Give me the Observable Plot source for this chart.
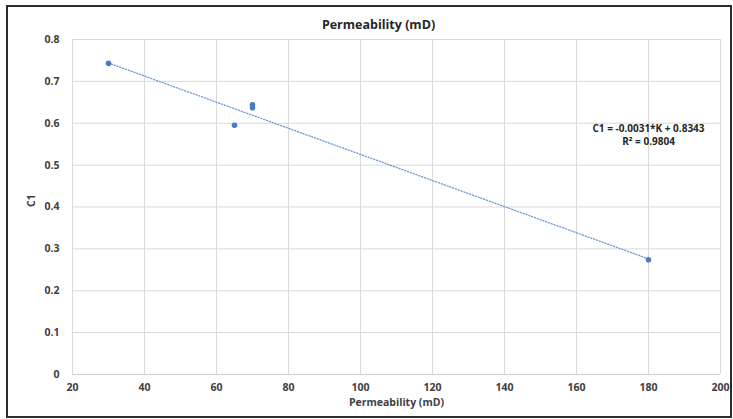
<!DOCTYPE html>
<html>
<head>
<meta charset="utf-8">
<script src="https://cdn.jsdelivr.net/npm/d3@7"></script>
<script src="https://cdn.jsdelivr.net/npm/@observablehq/plot@0.6"></script>
<style>
  html, body { margin: 0; padding: 0; background: #fff; }
  #wrap { position: relative; width: 733px; height: 419px; overflow: hidden; }
  #frame { position: absolute; left: 6px; top: 5px; width: 726px; height: 413px;
           box-sizing: border-box; border: 2px solid #2b2b2b; pointer-events: none; }
  svg { font-family: "Open Sans", sans-serif; }
</style>
</head>
<body>
<div id="wrap"><div id="frame"></div></div>
<script>
// Data
const permeability = [30, 65, 70, 70, 180];          // K (mD)
const c1Values     = [0.743, 0.595, 0.644, 0.637, 0.274];
const xTicks = [20, 40, 60, 80, 100, 120, 140, 160, 180, 200];
const yTicks = [0, 0.1, 0.2, 0.3, 0.4, 0.5, 0.6, 0.7, 0.8];
const titleText = "Permeability (mD)";
const xLabel = "Permeability (mD)";
const yLabel = "C1";
const equationLines = ["C1 = -0.0031*K + 0.8343", "R² = 0.9804"];
const equationAnchor = [{K: 180, C1: 0.574}];

const data = permeability.map((k, i) => ({K: k, C1: c1Values[i]}));

const chart = Plot.plot({
  width: 733,
  height: 419,
  marginLeft: 72,
  marginRight: 13,
  marginTop: 39,
  marginBottom: 45,
  style: {fontFamily: "'Open Sans', sans-serif", background: "transparent", overflow: "visible"},
  x: {domain: [20, 200], ticks: xTicks, label: null},
  y: {domain: [0, 0.8], ticks: yTicks, label: null},
  marks: [
    Plot.gridX(xTicks, {stroke: "#d9d9d9", strokeOpacity: 1}),
    Plot.gridY(yTicks, {stroke: "#d9d9d9", strokeOpacity: 1}),
    Plot.ruleY([0], {stroke: "#d0d0d0"}),
    Plot.axisX(xTicks, {tickSize: 0, tickPadding: 9, fontSize: 10.5, fontWeight: "bold", fill: "#404040",
      tickFormat: d => String(d), label: null}),
    Plot.axisY(yTicks, {tickSize: 0, tickPadding: 13, fontSize: 10.5, fontWeight: "bold", fill: "#404040",
      tickFormat: d => d === 0 ? "0" : d3.format(".1f")(d), label: null}),
    Plot.linearRegressionY(data, {x: "K", y: "C1", ci: 0, stroke: "#6b9ad6", strokeWidth: 1.3,
      strokeDasharray: "1.2,1.8"}),
    Plot.dot(data, {x: "K", y: "C1", r: 2.8, fill: "#4a7bc0", stroke: "none"}),
    Plot.text(equationAnchor, {x: "K", y: "C1", text: () => equationLines.join("\n"), lineHeight: 1.3,
      fontSize: 10, fontWeight: "bold", fill: "#262626", textAnchor: "middle"}),
    Plot.text([titleText], {frameAnchor: "top", dy: -19, dx: -18, fontSize: 12.5, fontWeight: "bold", fill: "#262626"}),
    Plot.text([xLabel], {frameAnchor: "bottom", dy: 31, fontSize: 10.5, fontWeight: "bold", fill: "#404040"}),
    Plot.text([yLabel], {frameAnchor: "left", dx: -41, rotate: -90, fontSize: 10.5, fontWeight: "bold", fill: "#404040"})
  ]
});
document.getElementById("wrap").prepend(chart);
</script>
</body>
</html>
